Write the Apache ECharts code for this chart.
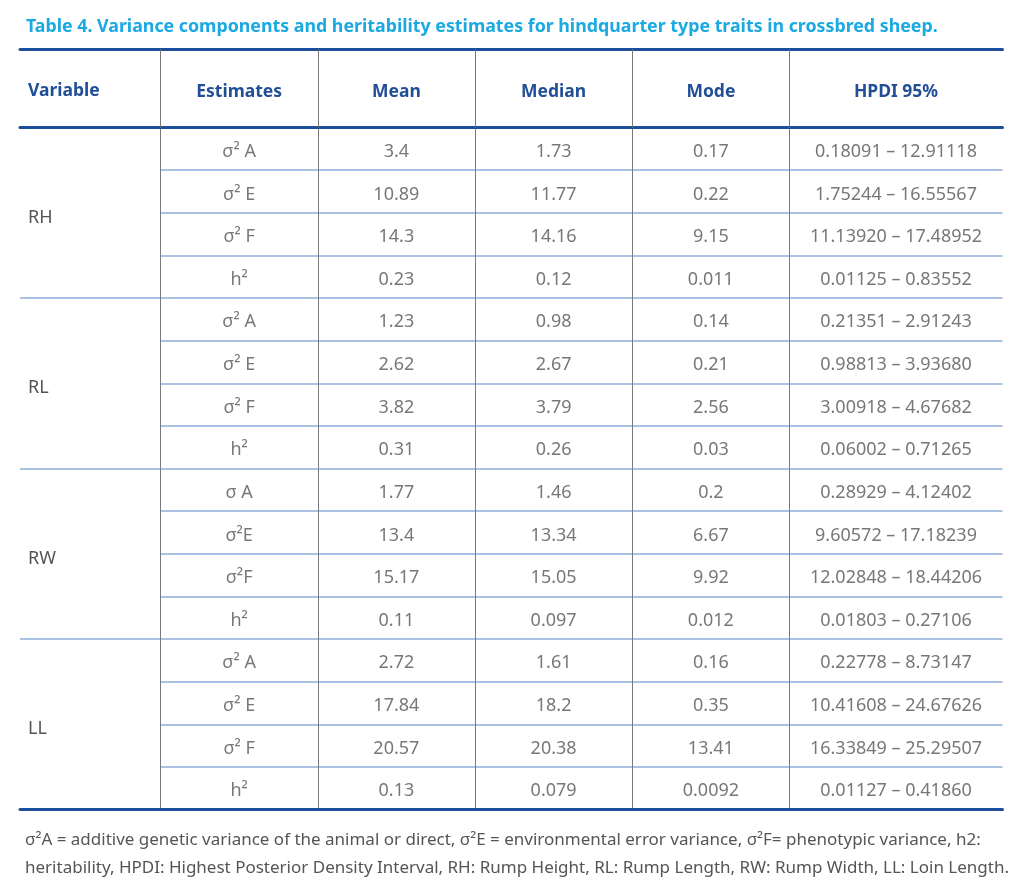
<!DOCTYPE html>
<html>
<head>
<meta charset="utf-8">
<title>Table 4</title>
<script src="https://cdn.jsdelivr.net/npm/echarts@6.0.0/dist/echarts.min.js"></script>
<style>
    html, body { margin: 0; padding: 0; background: #ffffff; }
    #chart { width: 1024px; height: 884px; }
</style>
</head>
<body>
<div id="chart"></div>
<script>
// table content
var variables = ['RH', 'RL', 'RW', 'LL'];
var columns = ['Estimates', 'Mean', 'Median', 'Mode'];
var estimates = [
    'σ² A', 'σ² E', 'σ² F', 'h²',
    'σ² A', 'σ² E', 'σ² F', 'h²',
    'σ A', 'σ²E', 'σ²F', 'h²',
    'σ² A', 'σ² E', 'σ² F', 'h²'
];
var mean = ['3.4', '10.89', '14.3', '0.23', '1.23', '2.62', '3.82', '0.31',
    '1.77', '13.4', '15.17', '0.11', '2.72', '17.84', '20.57', '0.13'];
var median = ['1.73', '11.77', '14.16', '0.12', '0.98', '2.67', '3.79', '0.26',
    '1.46', '13.34', '15.05', '0.097', '1.61', '18.2', '20.38', '0.079'];
var mode = ['0.17', '0.22', '9.15', '0.011', '0.14', '0.21', '2.56', '0.03',
    '0.2', '6.67', '9.92', '0.012', '0.16', '0.35', '13.41', '0.0092'];
var hpdi = [
    '0.18091 – 12.91118', '1.75244 – 16.55567', '11.13920 – 17.48952', '0.01125 – 0.83552',
    '0.21351 – 2.91243', '0.98813 – 3.93680', '3.00918 – 4.67682', '0.06002 – 0.71265',
    '0.28929 – 4.12402', '9.60572 – 17.18239', '12.02848 – 18.44206', '0.01803 – 0.27106',
    '0.22778 – 8.73147', '10.41608 – 24.67626', '16.33849 – 25.29507', '0.01127 – 0.41860'
];
var hpdiHeader = ['HPDI 95%'];

var chartDom = document.getElementById('chart');
var myChart = echarts.init(chartDom);
var option;

var font = 'Noto Sans';
var ruleColor = '#1d4f9f';
var rowLineColor = '#8eaedb';
var colLineColor = '#7a7a7a';
var headColor = '#204f98';
var textColor = '#555555';

var rowIds = estimates.map(function (d, i) { return i; });

// one scatter point per cell, the label carries the text
var cells = [];
[estimates, mean, median, mode].forEach(function (col, c) {
    col.forEach(function (v, r) {
        cells.push([c, r, v]);
    });
});
var hpdiCells = hpdi.map(function (v, r) { return [0, r, v]; });

var headLabel = {
    color: headColor,
    fontFamily: font,
    fontSize: 17.5,
    fontWeight: 'bold'
};

function rule(gridIndex, position, offset) {
    return {
        gridIndex: gridIndex,
        type: 'category',
        data: [''],
        position: position,
        offset: offset || 0,
        z: 5,
        axisLine: { show: true, lineStyle: { color: ruleColor, width: 3 } },
        axisTick: { show: false },
        axisLabel: { show: false },
        splitLine: { show: false }
    };
}

function cellSeries(xi, yi, data) {
    return {
        type: 'scatter',
        xAxisIndex: xi,
        yAxisIndex: yi,
        symbolSize: 1,
        silent: true,
        itemStyle: { color: 'transparent' },
        label: {
            show: true,
            position: 'inside',
            offset: [0, 3],
            color: textColor,
            fontFamily: font,
            fontSize: 18,
            formatter: function (p) { return p.value[2]; }
        },
        data: data
    };
}

option = {
    animation: false,
    title: [
        {
            text: 'Table 4. Variance components and heritability estimates for hindquarter type traits in crossbred sheep.',
            left: 21,
            top: 13,
            textStyle: {
                color: '#1aa9e2',
                fontFamily: font,
                fontSize: 17.8,
                fontWeight: 'bold'
            }
        },
        {
            text: 'σ²A = additive genetic variance of the animal or direct, σ²E = environmental error variance, σ²F= phenotypic variance, h2:\nheritability, HPDI: Highest Posterior Density Interval, RH: Rump Height, RL: Rump Length, RW: Rump Width, LL: Loin Length.',
            left: 20,
            top: 821,
            textStyle: {
                color: textColor,
                fontFamily: font,
                fontSize: 17,
                fontWeight: 'normal',
                lineHeight: 28
            }
        }
    ],
    grid: [
        { left: 20, top: 52.5, width: 140, height: 78 },
        { left: 20, top: 127.5, width: 140.5, height: 682 },
        { left: 160.5, top: 127.5, width: 629, height: 682 },
        { left: 789.5, top: 127.5, width: 213, height: 682 }
    ],
    xAxis: [
        // 0: header cell "Variable"
        { gridIndex: 0, type: 'value', show: false },
        // 1-3: rules over the Variable column
        rule(1, 'top'),
        rule(1, 'top', 78),
        rule(1, 'bottom'),
        // 4: Estimates / Mean / Median / Mode
        {
            gridIndex: 2,
            type: 'category',
            data: columns,
            position: 'top',
            z: 5,
            axisLine: { show: true, lineStyle: { color: ruleColor, width: 3 } },
            axisTick: { show: true, length: 78, lineStyle: { color: colLineColor, width: 1 } },
            axisLabel: Object.assign({ margin: 35, verticalAlign: 'middle' }, headLabel),
            splitLine: { show: true, lineStyle: { color: colLineColor, width: 1 } }
        },
        rule(2, 'top', 78),
        rule(2, 'bottom'),
        // 7: HPDI
        {
            gridIndex: 3,
            type: 'category',
            data: hpdiHeader,
            position: 'top',
            z: 5,
            axisLine: { show: true, lineStyle: { color: ruleColor, width: 3 } },
            axisTick: { show: false },
            axisLabel: Object.assign({ margin: 35, verticalAlign: 'middle' }, headLabel),
            splitLine: { show: false }
        },
        rule(3, 'top', 78),
        rule(3, 'bottom')
    ],
    yAxis: [
        {
            gridIndex: 0,
            type: 'category',
            data: ['Variable'],
            axisLine: { show: false },
            axisTick: { show: false },
            axisLabel: Object.assign({ inside: true, margin: 8 }, headLabel),
            splitLine: { show: false }
        },
        {
            gridIndex: 1,
            type: 'category',
            data: variables,
            inverse: true,
            axisLine: { show: false },
            axisTick: { show: false },
            axisLabel: {
                inside: true,
                margin: 8,
                verticalAlign: 'top',
                lineHeight: 10,
                color: textColor,
                fontFamily: font,
                fontSize: 18
            },
            splitLine: { show: true, lineStyle: { color: rowLineColor, width: 1.5 } }
        },
        {
            gridIndex: 2,
            type: 'category',
            data: rowIds,
            inverse: true,
            axisLine: { show: false },
            axisTick: { show: false },
            axisLabel: { show: false },
            splitLine: { show: true, lineStyle: { color: rowLineColor, width: 1.5 } }
        },
        {
            gridIndex: 3,
            type: 'category',
            data: rowIds,
            inverse: true,
            axisLine: { show: false },
            axisTick: { show: false },
            axisLabel: { show: false },
            splitLine: { show: true, lineStyle: { color: rowLineColor, width: 1.5 } }
        }
    ],
    series: [
        cellSeries(4, 2, cells),
        cellSeries(7, 3, hpdiCells)
    ]
};

option && myChart.setOption(option);

window.addEventListener('resize', myChart.resize);
</script>
</body>
</html>
